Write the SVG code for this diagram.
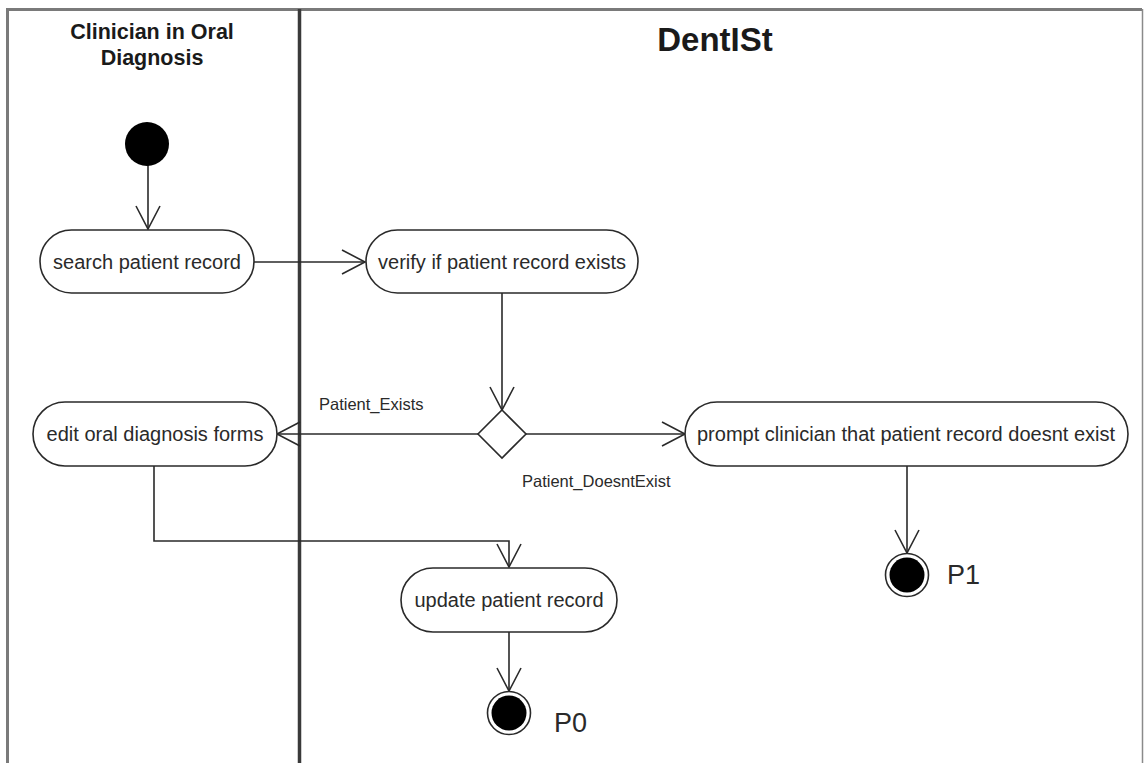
<svg xmlns="http://www.w3.org/2000/svg" width="1145" height="763" viewBox="0 0 1145 763">
  <style>
    .frame { fill: none; stroke: #7a7a7a; stroke-width: 3; }
    .frame-r { fill: none; stroke: #8a8a8a; stroke-width: 1.5; }
    .divider { fill: none; stroke: #3a3a3a; stroke-width: 3.5; }
    .lane-title { font-family: "Liberation Sans", Arial, sans-serif; font-weight: bold; fill: #1a1a1a; text-anchor: middle; }
    .action { fill: #ffffff; stroke: #2a2a2a; stroke-width: 1.6; }
    .action-text { font-family: "Liberation Sans", Arial, sans-serif; font-size: 20px; fill: #2a2a2a; text-anchor: middle; dominant-baseline: central; }
    .guard { font-family: "Liberation Sans", Arial, sans-serif; font-size: 16.5px; fill: #2a2a2a; }
    .final-label { font-family: "Liberation Sans", Arial, sans-serif; font-size: 27px; fill: #2a2a2a; }
    .flow { fill: none; stroke: #2a2a2a; stroke-width: 1.6; }
    .initial { fill: #000000; }
    .final-ring { fill: #ffffff; stroke: #2a2a2a; stroke-width: 1.6; }
    .final-dot { fill: #000000; }
  </style>
  <defs>
    <marker id="open-arrow" markerUnits="userSpaceOnUse" markerWidth="30" markerHeight="30" viewBox="-26 -15 30 30" refX="0" refY="0" orient="auto">
      <path d="M -23 -12 L 0 0 L -23 12" fill="none" stroke="#2a2a2a" stroke-width="1.6"/>
    </marker>
  </defs>

  <rect width="1145" height="763" fill="#ffffff"/>

  <!-- swimlane frame -->
  <g id="swimlanes">
    <path class="frame" d="M 7.5 763 L 7.5 9.5 L 1142 9.5"/>
    <path class="frame-r" d="M 1142.5 9 L 1142.5 763"/>
    <path class="divider" d="M 299.5 9 L 299.5 763"/>
    <text class="lane-title" x="152" y="39" font-size="21.5">Clinician in Oral</text>
    <text class="lane-title" x="152" y="65" font-size="21.5">Diagnosis</text>
    <text class="lane-title" x="715" y="51" font-size="33">DentISt</text>
  </g>

  <!-- connectors -->
  <g id="connectors">
    <path class="flow" d="M 148 165 L 148 229" marker-end="url(#open-arrow)"/>
    <path class="flow" d="M 254 262 L 365 262" marker-end="url(#open-arrow)"/>
    <path class="flow" d="M 502 293 L 502 410" marker-end="url(#open-arrow)"/>
    <path class="flow" d="M 478 434 L 277 434" marker-end="url(#open-arrow)"/>
    <path class="flow" d="M 526 434 L 685 434" marker-end="url(#open-arrow)"/>
    <path class="flow" d="M 907 466 L 907 553" marker-end="url(#open-arrow)"/>
    <path class="flow" d="M 154 466 L 154 541 L 509 541 L 509 567" marker-end="url(#open-arrow)"/>
    <path class="flow" d="M 509 632 L 509 691" marker-end="url(#open-arrow)"/>
    <text class="guard" x="319" y="410">Patient_Exists</text>
    <text class="guard" x="522" y="487">Patient_DoesntExist</text>
  </g>

  <!-- nodes -->
  <g id="start">
    <circle class="initial" cx="147" cy="144" r="22"/>
  </g>

  <g id="search-patient-record">
    <rect class="action" x="40" y="230" width="214" height="63" rx="31.5"/>
    <text class="action-text" x="147" y="262">search patient record</text>
  </g>

  <g id="verify-record-exists">
    <rect class="action" x="366" y="230" width="272" height="63" rx="31.5"/>
    <text class="action-text" x="502" y="262">verify if patient record exists</text>
  </g>

  <g id="decision">
    <path class="action" d="M 502 410 L 526 434 L 502 458 L 478 434 Z"/>
  </g>

  <g id="edit-oral-diagnosis-forms">
    <rect class="action" x="33" y="402" width="244" height="64" rx="32"/>
    <text class="action-text" x="155" y="434">edit oral diagnosis forms</text>
  </g>

  <g id="prompt-clinician">
    <rect class="action" x="685" y="402" width="443" height="64" rx="32"/>
    <text class="action-text" x="906" y="434">prompt clinician that patient record doesnt exist</text>
  </g>

  <g id="update-patient-record">
    <rect class="action" x="401" y="568" width="216" height="64" rx="32"/>
    <text class="action-text" x="509" y="600">update patient record</text>
  </g>

  <g id="final-p1">
    <circle class="final-ring" cx="907" cy="575" r="21.5"/>
    <circle class="final-dot" cx="907" cy="575" r="17.5"/>
    <text class="final-label" x="947" y="584">P1</text>
  </g>

  <g id="final-p0">
    <circle class="final-ring" cx="509" cy="713" r="21.5"/>
    <circle class="final-dot" cx="509" cy="713" r="17.5"/>
    <text class="final-label" x="554" y="732">P0</text>
  </g>
</svg>
